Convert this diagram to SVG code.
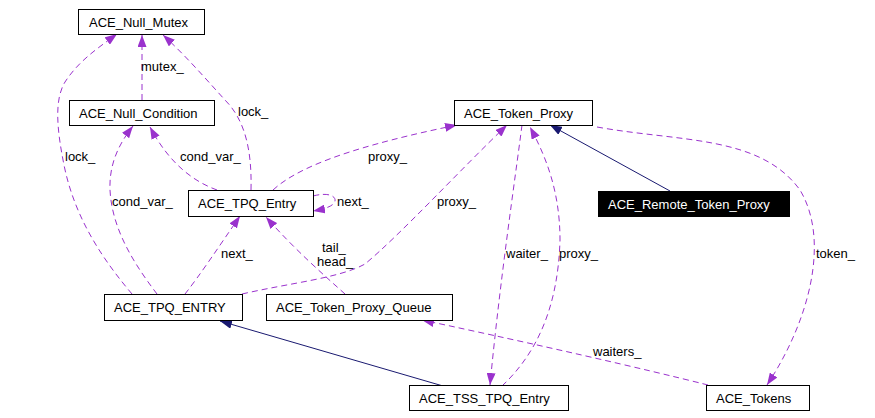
<svg xmlns="http://www.w3.org/2000/svg" width="875" height="418" viewBox="0 0 875 418">
<style>
.box{fill:#ffffff;stroke:#000000;stroke-width:1}
.boxd{fill:#000000;stroke:#000000;stroke-width:1}
.t{font-family:"Liberation Sans",Arial,sans-serif;font-size:13px;fill:#000000}
.tw{font-family:"Liberation Sans",Arial,sans-serif;font-size:13px;fill:#ffffff}
.lbl{font-family:"Liberation Sans",Arial,sans-serif;font-size:13px;fill:#000000}
.u{fill:none;stroke:#9a32cd;stroke-width:1;stroke-dasharray:6,4;marker-end:url(#ap)}
.g{fill:none;stroke:#191970;stroke-width:1;marker-end:url(#an)}
</style>
<defs>
<marker id="ap" markerUnits="userSpaceOnUse" markerWidth="12" markerHeight="9" refX="12" refY="4.5" orient="auto">
<path d="M0,0 L12,4.5 L0,9 z" fill="#9a32cd" stroke="none"/>
</marker>
<marker id="an" markerUnits="userSpaceOnUse" markerWidth="12" markerHeight="9" refX="12" refY="4.5" orient="auto">
<path d="M0,0 L12,4.5 L0,9 z" fill="#191970" stroke="none"/>
</marker>
</defs>
<rect width="875" height="418" fill="#ffffff"/>
<g id="connectors">
<path class="u" d="M142,100 L142,35"/>
<path class="u" d="M132,294 C 105,262 75,220 64,165 C 57,130 54,100 65,82 C 78,62 95,50 117,34"/>
<path class="u" d="M157,294 C 135,265 112,230 110,190 C 109,165 118,145 133,126"/>
<path class="u" d="M217,190 C 195,182 170,165 150,127"/>
<path class="u" d="M251,190 C 252,150 245,120 225,100 C 205,78 185,55 163,35"/>
<path class="u" d="M185,294 C 200,275 218,248 240,216"/>
<path class="u" d="M345,294 C 325,276 295,250 266,217"/>
<path class="u" d="M313,196 C 328,192 336,196 335,201 C 334,206 325,209 313,211"/>
<path class="u" d="M273,190 C 300,165 360,145 457,125"/>
<path class="u" d="M242,294 C 290,283 340,278 365,264 C 400,235 460,170 507,125"/>
<path class="u" d="M522,125 C 515,180 500,280 490,385"/>
<path class="u" d="M502,386 C 535,355 558,310 560,240 C 560,190 545,155 530,127"/>
<path class="g" d="M670,191 L550,125"/>
<path class="g" d="M443,386 L220,321"/>
<path class="u" d="M708,385 C 640,368 540,345 422,320"/>
<path class="u" d="M597,127 C 680,142 760,135 800,190 C 830,240 810,320 767,385"/>
<text class="lbl" x="141" y="71">mutex_</text>
<text class="lbl" x="65" y="161">lock_</text>
<text class="lbl" x="238" y="116">lock_</text>
<text class="lbl" x="180" y="161">cond_var_</text>
<text class="lbl" x="112" y="206">cond_var_</text>
<text class="lbl" x="337" y="206">next_</text>
<text class="lbl" x="368" y="161">proxy_</text>
<text class="lbl" x="437" y="206">proxy_</text>
<text class="lbl" x="221" y="258">next_</text>
<text class="lbl" x="322" y="252">tail_</text>
<text class="lbl" x="317" y="266">head_</text>
<text class="lbl" x="506" y="258">waiter_</text>
<text class="lbl" x="559" y="258">proxy_</text>
<text class="lbl" x="816" y="258">token_</text>
<text class="lbl" x="593" y="356">waiters_</text>
</g>
<g id="ACE_Null_Mutex">
<rect class="box" x="78.5" y="9.5" width="126" height="25"/>
<text class="t" x="89" y="26.5">ACE_Null_Mutex</text>
</g>
<g id="ACE_Null_Condition">
<rect class="box" x="69.5" y="100.5" width="145" height="25"/>
<text class="t" x="79" y="117.5">ACE_Null_Condition</text>
</g>
<g id="ACE_TPQ_Entry">
<rect class="box" x="188.5" y="190.5" width="125" height="26"/>
<text class="t" x="198" y="208">ACE_TPQ_Entry</text>
</g>
<g id="ACE_TPQ_ENTRY">
<rect class="box" x="104.5" y="294.5" width="138" height="26"/>
<text class="t" x="114" y="312">ACE_TPQ_ENTRY</text>
</g>
<g id="ACE_Token_Proxy_Queue">
<rect class="box" x="266.5" y="294.5" width="186" height="26"/>
<text class="t" x="276" y="312">ACE_Token_Proxy_Queue</text>
</g>
<g id="ACE_Token_Proxy">
<rect class="box" x="454.5" y="100.5" width="138" height="25"/>
<text class="t" x="464" y="117.5">ACE_Token_Proxy</text>
</g>
<g id="ACE_Remote_Token_Proxy">
<rect class="boxd" x="598.5" y="191.5" width="191" height="25"/>
<text class="tw" x="608" y="208.5">ACE_Remote_Token_Proxy</text>
</g>
<g id="ACE_TSS_TPQ_Entry">
<rect class="box" x="409.5" y="385.5" width="159" height="25"/>
<text class="t" x="419" y="402.5">ACE_TSS_TPQ_Entry</text>
</g>
<g id="ACE_Tokens">
<rect class="box" x="706.5" y="385.5" width="103" height="25"/>
<text class="t" x="716" y="402.5">ACE_Tokens</text>
</g>
</svg>
